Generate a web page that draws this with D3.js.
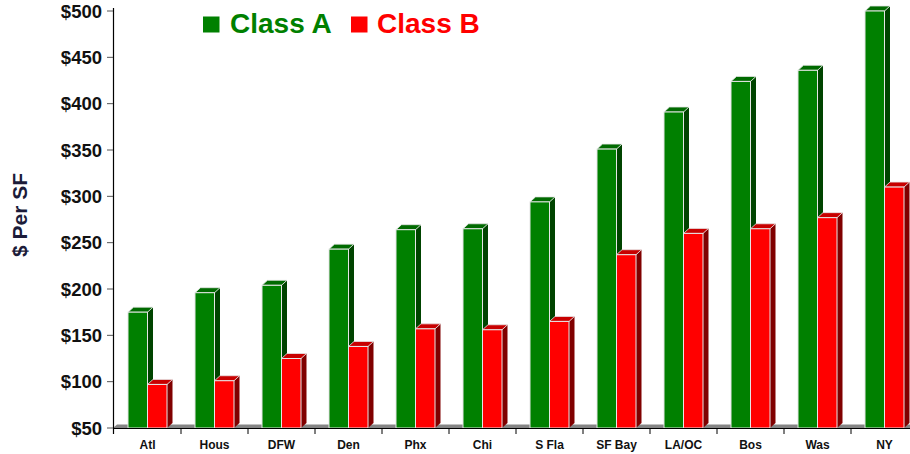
<!DOCTYPE html>
<html>
<head>
<meta charset="utf-8">
<script src="https://cdn.jsdelivr.net/npm/d3@7/dist/d3.min.js"></script>
<style>
  html, body { margin: 0; padding: 0; background: #fff; }
  svg { display: block; font-family: "Liberation Sans", Arial, sans-serif; }
</style>
</head>
<body>
<svg id="chart" width="910" height="454"></svg>
<script>
// Office rents by metro, $ per square foot
const markets = ["Atl", "Hous", "DFW", "Den", "Phx", "Chi", "S Fla", "SF Bay", "LA/OC", "Bos", "Was", "NY"];
const classA = [175, 196, 204, 243, 264, 265, 294, 351, 391, 424, 436, 500];
const classB = [97, 101, 125, 138, 157, 156, 165, 237, 260, 265, 277, 310];
const yTicks = [50, 100, 150, 200, 250, 300, 350, 400, 450, 500];
const seriesNames = ["Class A", "Class B"];

const svg = d3.select("#chart");

const axisX = 113, baseY = 428, topY = 11;
const bandW = 67;
const depthX = 5.5, depthY = 5;

const y = d3.scaleLinear().domain([50, 500]).range([baseY, topY]);
const x = d3.scaleBand().domain(markets).range([axisX + 1, axisX + 1 + bandW * markets.length]);
const barW = 19.5;
const inner = d3.scaleBand().domain(seriesNames).range([0, barW * 2]);

const palette = {
  "Class A": { front: "#008000", top: "#006a00", side: "#004400" },
  "Class B": { front: "#ff0000", top: "#c80000", side: "#800000" }
};

// floor strip
const floorD = 3.5;
svg.append("path")
  .attr("d", `M${axisX},${baseY} L${axisX + floorD + 0.5},${baseY - floorD} L${x.range()[1] + floorD},${baseY - floorD} L${x.range()[1]},${baseY} Z`)
  .attr("fill", "#858585");

// bars
const bars = [];
markets.forEach((m, i) => {
  bars.push({ market: m, series: "Class A", value: classA[i] });
  bars.push({ market: m, series: "Class B", value: classB[i] });
});

const g = svg.append("g");
bars.forEach(d => {
  const c = palette[d.series];
  const x0 = x(m = d.market) + (x.bandwidth() - barW * 2) / 2 + inner(d.series);
  const x1 = x0 + barW;
  const yt = y(d.value);
  const grp = g.append("g");
  // side face
  grp.append("path")
    .attr("d", `M${x1},${yt} L${x1 + depthX},${yt - depthY} L${x1 + depthX},${baseY - depthY} L${x1},${baseY} Z`)
    .attr("fill", c.side);
  // top face
  grp.append("path")
    .attr("d", `M${x0},${yt} L${x0 + depthX},${yt - depthY} L${x1 + depthX},${yt - depthY} L${x1},${yt} Z`)
    .attr("fill", c.top)
    .attr("stroke", "#e6e6e6").attr("stroke-width", 0.8).attr("stroke-linejoin", "round");
  // front face
  grp.append("rect")
    .attr("x", x0).attr("y", yt)
    .attr("width", barW).attr("height", baseY - yt)
    .attr("fill", c.front)
    .attr("stroke", "#e6e6e6").attr("stroke-width", 1);
});

// y axis
const yAxis = svg.append("g");
yAxis.append("line")
  .attr("x1", axisX + 0.5).attr("x2", axisX + 0.5)
  .attr("y1", topY - 3).attr("y2", baseY + 6)
  .attr("stroke", "#000").attr("stroke-width", 1.2);
yTicks.forEach(t => {
  yAxis.append("line")
    .attr("x1", axisX - 6).attr("x2", axisX)
    .attr("y1", y(t)).attr("y2", y(t))
    .attr("stroke", "#555").attr("stroke-width", 1);
  yAxis.append("text")
    .attr("x", axisX - 11).attr("y", y(t))
    .attr("dy", "0.36em")
    .attr("text-anchor", "end")
    .attr("font-size", "18.5px").attr("font-weight", "bold")
    .attr("fill", "#111")
    .text("$" + t);
});

// x axis
const xAxis = svg.append("g");
xAxis.append("line")
  .attr("x1", axisX).attr("x2", 910)
  .attr("y1", baseY + 0.5).attr("y2", baseY + 0.5)
  .attr("stroke", "#000").attr("stroke-width", 1.2);
markets.forEach((m, i) => {
  if (i > 0) {
    xAxis.append("line")
      .attr("x1", x(m)).attr("x2", x(m))
      .attr("y1", baseY).attr("y2", baseY + 6)
      .attr("stroke", "#000").attr("stroke-width", 1);
  }
  xAxis.append("text")
    .attr("x", x(m) + x.bandwidth() / 2).attr("y", 449)
    .attr("text-anchor", "middle")
    .attr("font-size", "12px").attr("font-weight", "bold")
    .attr("fill", "#111")
    .text(m);
});

// y axis title
svg.append("text")
  .attr("transform", "translate(27,215) rotate(-90)")
  .attr("text-anchor", "middle")
  .attr("font-size", "21px").attr("font-weight", "bold")
  .attr("fill", "#1c1c3a")
  .text("$ Per SF");

// legend
const legend = svg.append("g");
const legendItems = [
  { name: "Class A", sx: 203, tx: 230 },
  { name: "Class B", sx: 351, tx: 377 }
];
legendItems.forEach(l => {
  legend.append("rect")
    .attr("x", l.sx).attr("y", 16.5)
    .attr("width", 16.5).attr("height", 16)
    .attr("fill", palette[l.name].front);
  legend.append("text")
    .attr("x", l.tx).attr("y", 33.3)
    .attr("font-size", "28px").attr("font-weight", "bold")
    .attr("fill", palette[l.name].front)
    .text(l.name);
});
</script>
</body>
</html>
